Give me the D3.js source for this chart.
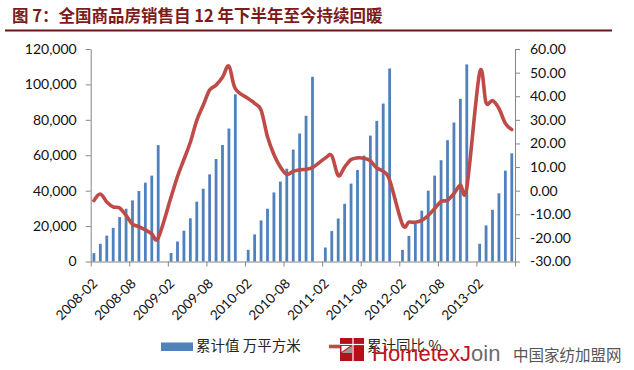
<!DOCTYPE html>
<html><head><meta charset="utf-8">
<script src="https://cdn.jsdelivr.net/npm/d3@7/dist/d3.min.js"></script>
<style>body{margin:0;background:#fff}svg{display:block}</style>
</head><body><svg id="c" width="634" height="370"></svg>
<script>
const categories = [
"2008-02","2008-03","2008-04","2008-05","2008-06","2008-07","2008-08","2008-09","2008-10","2008-11","2008-12",
"2009-01","2009-02","2009-03","2009-04","2009-05","2009-06","2009-07","2009-08","2009-09","2009-10","2009-11","2009-12",
"2010-01","2010-02","2010-03","2010-04","2010-05","2010-06","2010-07","2010-08","2010-09","2010-10","2010-11","2010-12",
"2011-01","2011-02","2011-03","2011-04","2011-05","2011-06","2011-07","2011-08","2011-09","2011-10","2011-11","2011-12",
"2012-01","2012-02","2012-03","2012-04","2012-05","2012-06","2012-07","2012-08","2012-09","2012-10","2012-11","2012-12",
"2013-01","2013-02","2013-03","2013-04","2013-05","2013-06","2013-07"];
// 累计值 万平方米 (January has no separate figure)
const salesArea = [
4700,10000,14600,19000,25100,29800,34500,39800,44500,48500,65700,
null,4800,11300,17400,24400,33800,41100,49200,57900,65800,75100,94400,
null,6600,15300,23200,29800,39000,45100,52400,63200,72300,82300,104300,
null,7900,17200,24300,32600,44000,51700,59800,71100,79400,89200,109000,
null,6600,14500,21300,28700,40000,48500,57200,68500,78500,91900,111300,
null,10000,20400,29200,38500,51300,61100];
// 累计同比 %
const salesYoY = [
-4.2,-1.4,-4.8,-6.9,-7.3,-10.5,-14.2,-15.2,-16.6,-18.3,-20.0,
null,-2.7,6.0,13.2,20.5,29.8,36.2,42.6,44.7,48.0,52.8,43.2,
null,39.0,37.0,34.1,22.8,15.3,10.0,6.9,8.2,8.8,9.1,9.8,
null,13.8,14.8,6.4,10.0,13.2,13.9,13.7,12.6,9.6,8.2,4.5,
null,-14.3,-13.3,-13.4,-12.6,-10.5,-7.6,-4.6,-4.1,-1.2,2.3,1.3,
null,50.0,37.2,38.1,34.8,28.5,25.9];
const leftTicks = [0,20000,40000,60000,80000,100000,120000];
const rightTicks = [-30,-20,-10,0,10,20,30,40,50,60];
const xTickLabels = ["2008-02","2008-08","2009-02","2009-08","2010-02","2010-08","2011-02","2011-08","2012-02","2012-08","2013-02"];
const titleText = "图 7：全国商品房销售自 12 年下半年至今持续回暖";
const legendLabels = ["累计值 万平方米","累计同比 %"];

const svg = d3.select("#c");
const L = 90.7, R = 515, T = 49, B = 261.5;
const x = d3.scaleBand().domain(categories).range([L, R]);
const bw = x.bandwidth();
const xi = d3.scaleLinear().domain([0, categories.length]).range([L, R]);
const yL = d3.scaleLinear().domain([0, 120000]).range([B, T]);
const yR = d3.scaleLinear().domain([-30, 60]).range([B, T]);
const axisColor = "#868686";
const font = "Lato, 'Open Sans', sans-serif";

// title
svg.append("text").attr("x", 12).attr("y", 22)
  .attr("font-family", "'Noto Sans CJK SC', sans-serif").attr("font-size", 16.5).attr("font-weight", 700)
  .attr("fill", "#7e1a1a").text(titleText);
svg.append("line").attr("x1", 5).attr("x2", 612).attr("y1", 30.5).attr("y2", 30.5)
  .attr("stroke", "#6a1414").attr("stroke-width", 2);

// bars
const barW = 2.8;
svg.append("g").selectAll("rect").data(categories.map((c, i) => ({c, v: salesArea[i]})).filter(d => d.v != null))
  .join("rect")
  .attr("x", d => x(d.c) + bw / 2 - barW / 2).attr("width", barW)
  .attr("y", d => yL(d.v)).attr("height", d => yL(0) - yL(d.v))
  .attr("fill", "#4f81bd");

// axes
function styleAxis(g) {
  g.select(".domain").attr("stroke", axisColor);
  g.selectAll(".tick line").attr("stroke", axisColor);
  g.selectAll(".tick text").attr("font-family", font).attr("font-size", 14).attr("fill", "#111");
}
svg.append("g").attr("transform", `translate(${L},0)`)
  .call(d3.axisLeft(yL).tickValues(leftTicks).tickSize(5).tickSizeOuter(0).tickPadding(9).tickFormat(d3.format(",")))
  .call(styleAxis);
const ra = svg.append("g").attr("transform", `translate(${R},0)`)
  .call(d3.axisRight(yR).tickValues(rightTicks).tickSize(5).tickSizeOuter(0).tickPadding(10).tickFormat(d3.format(".2f")))
  .call(styleAxis);
ra.selectAll(".tick text").text(d => d3.format(".2f")(d).replace("−", "-"));
svg.append("g").attr("transform", `translate(0,${B})`)
  .call(d3.axisBottom(xi).tickValues(d3.range(0, categories.length + 1, 6)).tickSize(5).tickSizeOuter(0).tickFormat(""))
  .call(styleAxis);

// x labels
svg.append("g").selectAll("text").data(xTickLabels).join("text")
  .attr("transform", d => `translate(${x(d) + bw / 2 + 1},${B + 19.5}) rotate(-45)`)
  .attr("text-anchor", "end").attr("dy", "0.35em")
  .attr("font-family", font).attr("font-size", 13.5).attr("fill", "#111")
  .text(d => d);

// line
const lineData = categories.map((c, i) => ({c, v: salesYoY[i]})).filter(d => d.v != null);
svg.append("path").datum(lineData)
  .attr("d", d3.line().x(d => x(d.c) + bw / 2).y(d => yR(d.v)).curve(d3.curveCatmullRom.alpha(0)))
  .attr("fill", "none").attr("stroke", "#be4b48").attr("stroke-width", 3.6)
  .attr("stroke-linejoin", "round").attr("stroke-linecap", "round");

// legend
const lg = svg.append("g");
lg.append("rect").attr("x", 161).attr("y", 342.5).attr("width", 32).attr("height", 8.5).attr("fill", "#4f81bd");
lg.append("text").attr("x", 196).attr("y", 351).attr("font-family", "'Noto Sans CJK SC', sans-serif")
  .attr("font-size", 14.5).attr("fill", "#262626").text(legendLabels[0]);
lg.append("line").attr("x1", 329).attr("x2", 360).attr("y1", 346.5).attr("y2", 346.5)
  .attr("stroke", "#be4b48").attr("stroke-width", 3.6);
// watermark logo
const wm = svg.append("g");
wm.append("rect").attr("x", 340).attr("y", 338).attr("width", 24).attr("height", 23).attr("fill", "#b3101a");
wm.append("line").attr("x1", 340).attr("x2", 364).attr("y1", 344.5).attr("y2", 344.5).attr("stroke", "#fff").attr("stroke-width", 1.2);
wm.append("line").attr("x1", 353).attr("x2", 353).attr("y1", 338).attr("y2", 361).attr("stroke", "#fff").attr("stroke-width", 1.2);
wm.append("path").attr("d", "M341.5,353 L352,346 L352,353 Z").attr("fill", "#9a9a9a");
wm.append("path").attr("d", "M341.5,346 L350,346 L341.5,352 Z").attr("fill", "#fff");
lg.append("text").attr("x", 367).attr("y", 351).attr("font-family", "'Noto Sans CJK SC', sans-serif")
  .attr("font-size", 14.5).attr("fill", "#262626").text(legendLabels[1]);
const wt = svg.append("text").attr("x", 372).attr("y", 360.5)
  .attr("font-family", "'Liberation Sans', Arial, sans-serif").attr("font-size", 22);
wt.append("tspan").attr("fill", "#c0161b").text("Hometex");
wt.append("tspan").attr("fill", "#c0161b").text("J");
wt.append("tspan").attr("fill", "#6b6b6b").text("oin");
svg.append("text").attr("x", 513).attr("y", 361).attr("font-family", "'Noto Sans CJK SC', sans-serif")
  .attr("font-size", 15.5).attr("fill", "#555").text("中国家纺加盟网");
</script></body></html>
